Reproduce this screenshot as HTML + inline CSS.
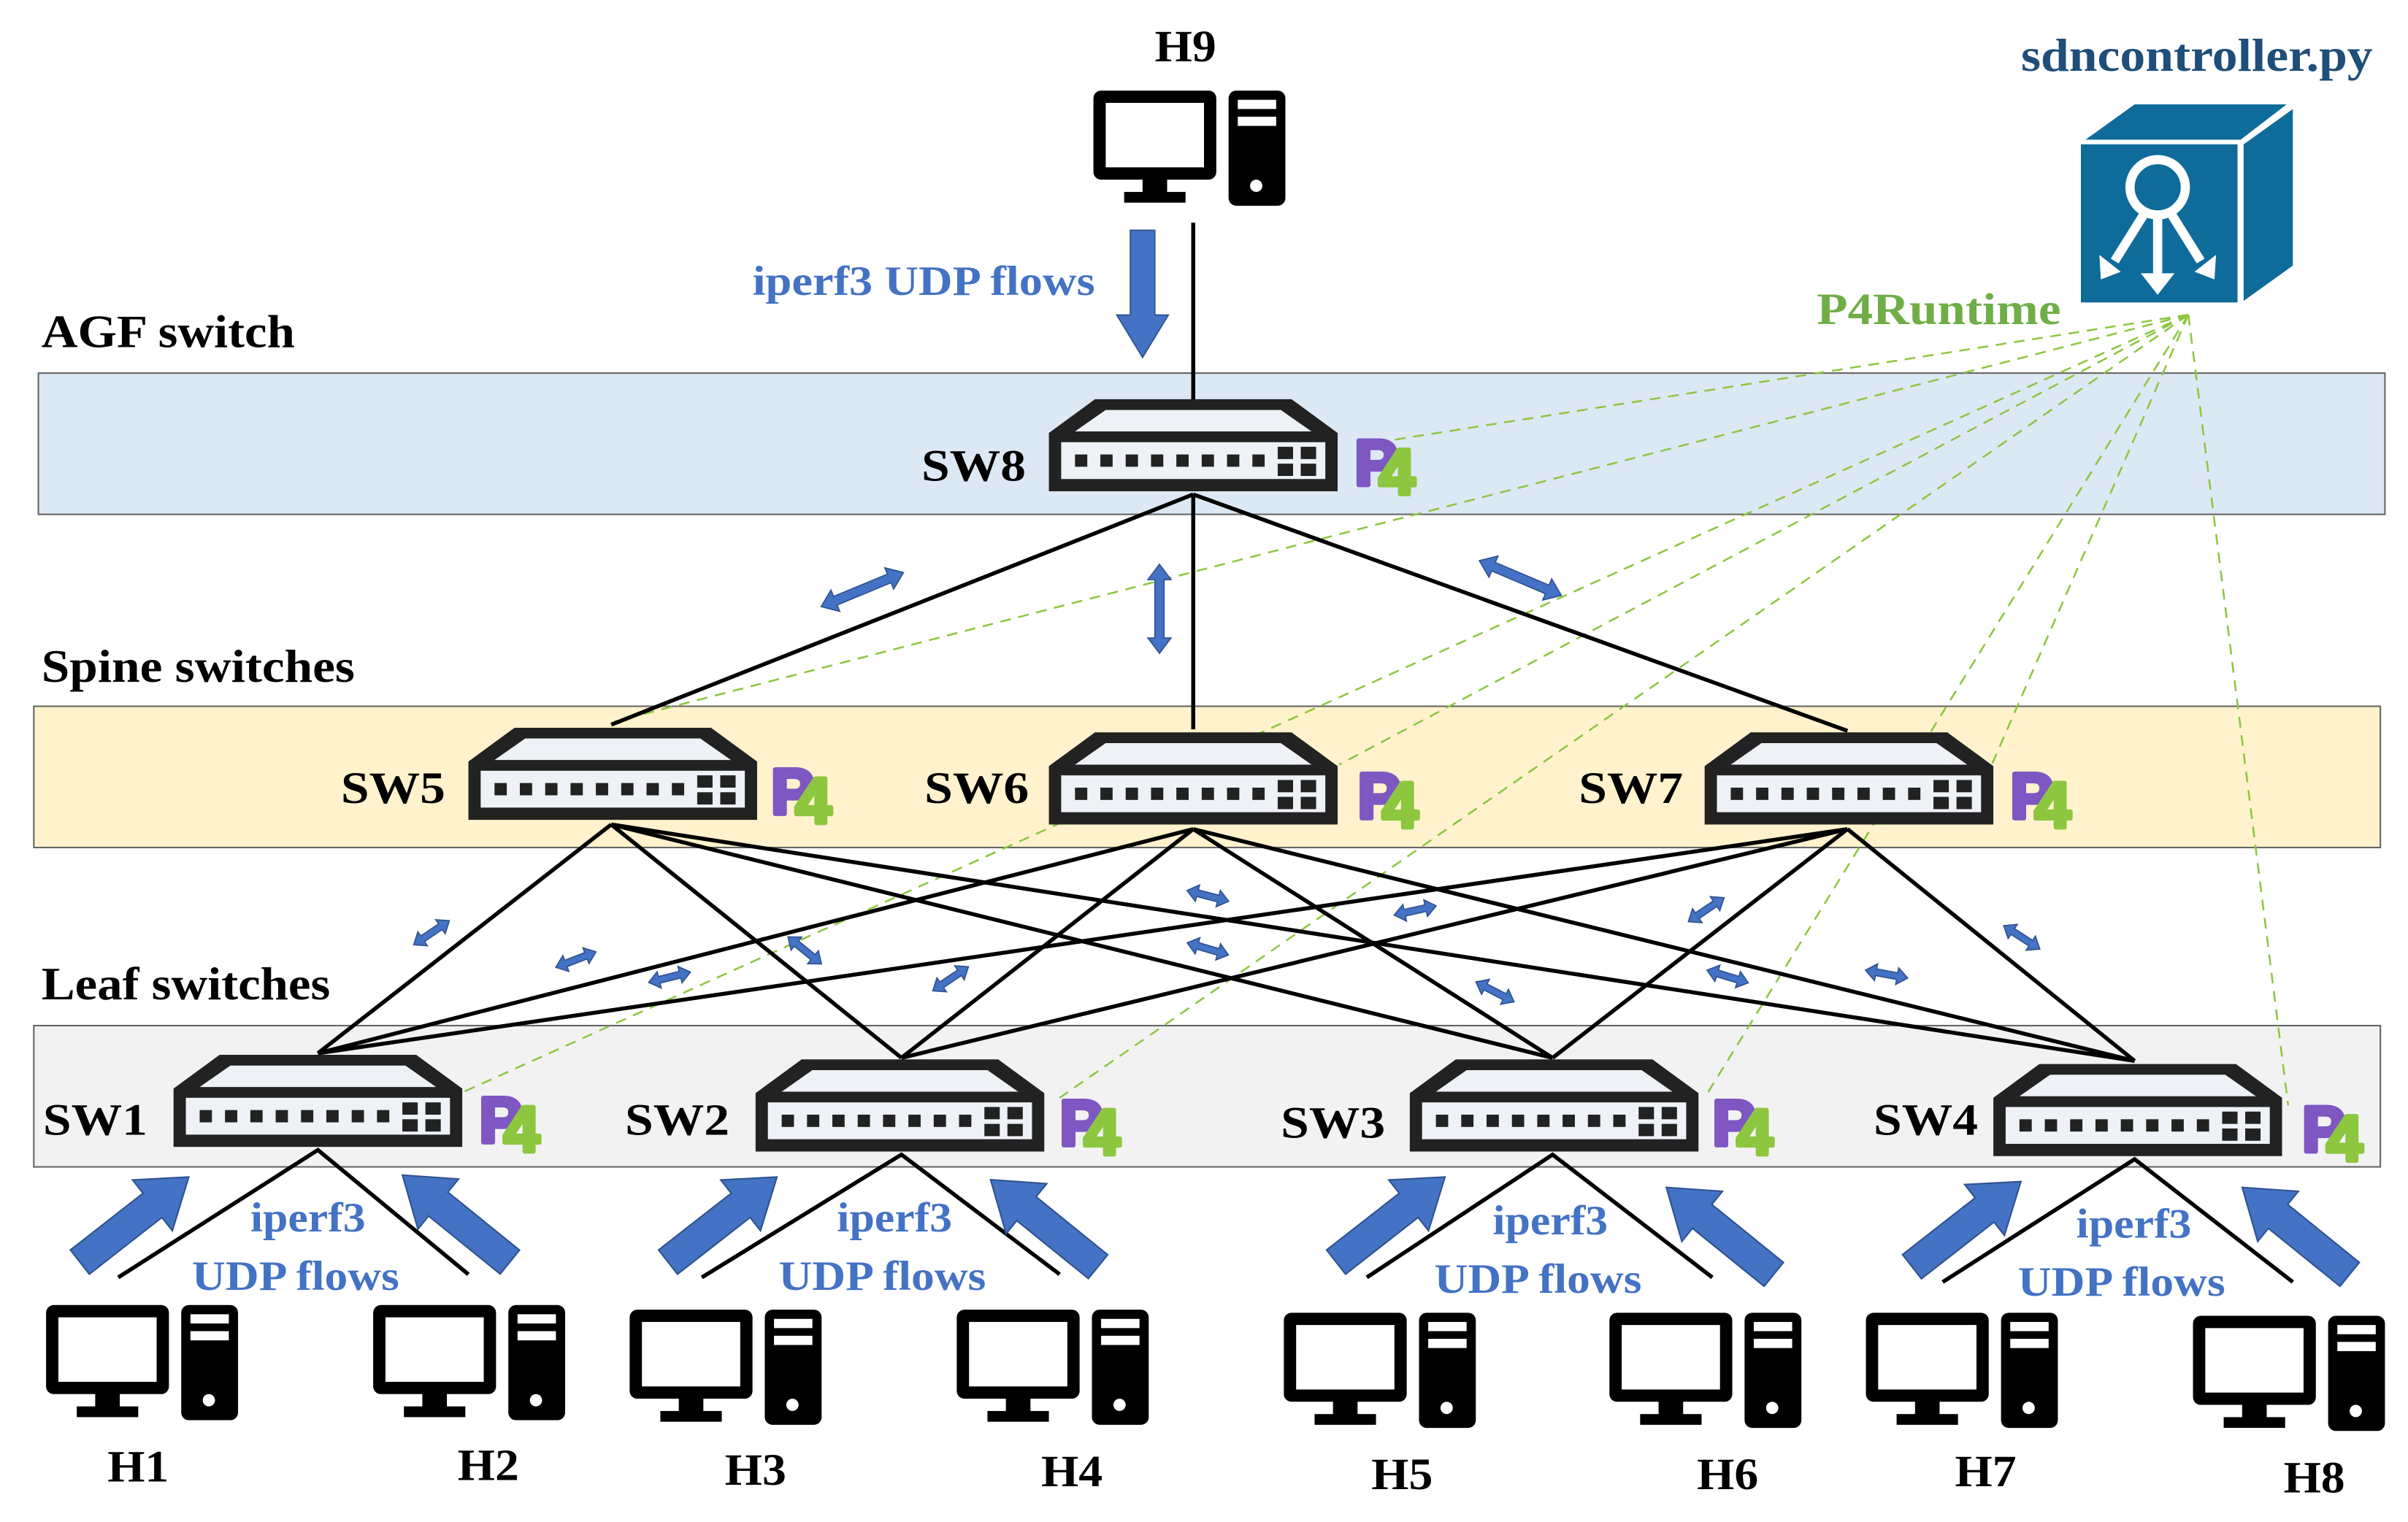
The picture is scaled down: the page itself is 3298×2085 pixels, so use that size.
<!DOCTYPE html>
<html><head><meta charset="utf-8"><style>html,body{margin:0;padding:0;background:#fff}svg{display:block}</style></head>
<body>
<svg width="3298" height="2085" viewBox="0 0 1568 991.3" xmlns="http://www.w3.org/2000/svg" font-family="'Liberation Serif',serif" font-weight="bold">
<defs>
<g id="sw">
<path d="M0,22 L30,0 L158,0 L188,22 L188,60 L0,60 Z" fill="#222"/>
<path d="M17,21 L37,7 L151,7 L171,21 Z" fill="#eef1f5"/>
<rect x="8" y="28" width="172" height="24" fill="#eef1f5"/>
<g fill="#222">
<rect x="17" y="36" width="8" height="8"/><rect x="33.5" y="36" width="8" height="8"/><rect x="50" y="36" width="8" height="8"/><rect x="66.5" y="36" width="8" height="8"/><rect x="83" y="36" width="8" height="8"/><rect x="99.5" y="36" width="8" height="8"/><rect x="116" y="36" width="8" height="8"/><rect x="132.5" y="36" width="8" height="8"/>
<rect x="149" y="31" width="10" height="8"/><rect x="164" y="31" width="10" height="8"/><rect x="149" y="42" width="10" height="8"/><rect x="164" y="42" width="10" height="8"/>
</g>
</g>
<g id="p4" font-family="'Liberation Sans',sans-serif" font-weight="bold" font-size="42">
<text x="0" y="38" fill="#7e57c2" stroke="#7e57c2" stroke-width="3" stroke-linejoin="round">P</text><text x="16" y="44" fill="#8dc63f" stroke="#8dc63f" stroke-width="3" stroke-linejoin="round">4</text>
</g>
<g id="host">
<rect x="0" y="0" width="80" height="58" rx="5" fill="#000"/>
<rect x="8" y="8" width="64" height="42" fill="#fff"/>
<rect x="32" y="57" width="16" height="10" fill="#000"/>
<rect x="20" y="66" width="40" height="7" fill="#000"/>
<rect x="88" y="0" width="37" height="75" rx="5" fill="#000"/>
<rect x="94" y="6" width="25" height="6" fill="#fff"/>
<rect x="94" y="17" width="25" height="6" fill="#fff"/>
<circle cx="106" cy="62" r="4" fill="#fff"/>
</g>
<path id="fat" d="M0,-10 L60,-10 L60,-21 L90,0 L60,21 L60,10 L0,10Z" fill="#4472c4" stroke="#2f528f" stroke-width="1"/>
<path id="dbl" d="M-14,0 L-7,-5.5 L-7,-2.2 L7,-2.2 L7,-5.5 L14,0 L7,5.5 L7,2.2 L-7,2.2 L-7,5.5Z" fill="#4472c4" stroke="#2f528f" stroke-width="0.8"/>
<path id="dblb" d="M-29,0 L-19,-7.5 L-19,-3 L19,-3 L19,-7.5 L29,0 L19,7.5 L19,3 L-19,3 L-19,7.5Z" fill="#4472c4" stroke="#2f528f" stroke-width="0.8"/>
</defs>

<rect x="25" y="243" width="1528" height="92" fill="#dde8f5" stroke="#666" stroke-width="1"/>
<rect x="22" y="460" width="1528" height="92" fill="#fff2cc" stroke="#666" stroke-width="1"/>
<rect x="22" y="668" width="1528" height="92" fill="#f2f2f2" stroke="#666" stroke-width="1"/>

<g font-size="30" fill="#000">
<text x="27" y="226" textLength="165" lengthAdjust="spacingAndGlyphs">AGF switch</text>
<text x="27" y="444" textLength="204" lengthAdjust="spacingAndGlyphs">Spine switches</text>
<text x="27" y="651" textLength="188" lengthAdjust="spacingAndGlyphs">Leaf switches</text>
</g>

<g stroke="#8dc63f" stroke-width="1.2" stroke-dasharray="7,5" fill="none">
<line x1="1425" y1="205" x2="885" y2="290"/>
<line x1="1425" y1="205" x2="400" y2="470"/>
<line x1="1425" y1="205" x2="872" y2="498"/>
<line x1="1425" y1="205" x2="1297" y2="498"/>
<line x1="1425" y1="205" x2="300" y2="712"/>
<line x1="1425" y1="205" x2="690" y2="715"/>
<line x1="1425" y1="205" x2="1110" y2="715"/>
<line x1="1425" y1="205" x2="1490" y2="720"/>
</g>

<g stroke="#000" stroke-width="2.6" fill="none">
<line x1="777" y1="145" x2="777" y2="262"/>
<line x1="777" y1="322" x2="398" y2="472"/>
<line x1="777" y1="322" x2="777" y2="475"/>
<line x1="777" y1="322" x2="1203" y2="476"/>
<g>
<line x1="398" y1="537" x2="207" y2="686"/><line x1="398" y1="537" x2="587" y2="689"/><line x1="398" y1="537" x2="1011" y2="689"/><line x1="398" y1="537" x2="1390" y2="691"/>
<line x1="777" y1="540" x2="207" y2="686"/><line x1="777" y1="540" x2="587" y2="689"/><line x1="777" y1="540" x2="1011" y2="689"/><line x1="777" y1="540" x2="1390" y2="691"/>
<line x1="1203" y1="540" x2="207" y2="686"/><line x1="1203" y1="540" x2="587" y2="689"/><line x1="1203" y1="540" x2="1011" y2="689"/><line x1="1203" y1="540" x2="1390" y2="691"/>
</g>
<polyline points="77,832 207,749 305,830"/>
<polyline points="457,832 587,752 690,830"/>
<polyline points="890,832 1011,752 1115,832"/>
<polyline points="1265,835 1390,755 1493,835"/>
</g>

<use href="#sw" x="683" y="260"/>
<use href="#sw" x="305" y="474"/>
<use href="#sw" x="683" y="477"/>
<use href="#sw" x="1110" y="477"/>
<use href="#sw" x="113" y="687"/>
<use href="#sw" x="492" y="690"/>
<use href="#sw" x="918" y="690"/>
<use href="#sw" x="1298" y="693"/>

<use href="#p4" x="882" y="278"/>
<use href="#p4" x="502" y="492"/>
<use href="#p4" x="884" y="495"/>
<use href="#p4" x="1309" y="495"/>
<use href="#p4" x="312" y="706"/>
<use href="#p4" x="690" y="708"/>
<use href="#p4" x="1115" y="708"/>
<use href="#p4" x="1499" y="712"/>

<g font-size="29" fill="#000">
<text x="600" y="313" textLength="68" lengthAdjust="spacingAndGlyphs">SW8</text>
<text x="222" y="523" textLength="68" lengthAdjust="spacingAndGlyphs">SW5</text>
<text x="602" y="523" textLength="68" lengthAdjust="spacingAndGlyphs">SW6</text>
<text x="1028" y="523" textLength="68" lengthAdjust="spacingAndGlyphs">SW7</text>
<text x="28" y="739" textLength="68" lengthAdjust="spacingAndGlyphs">SW1</text>
<text x="407" y="739" textLength="68" lengthAdjust="spacingAndGlyphs">SW2</text>
<text x="834" y="741" textLength="68" lengthAdjust="spacingAndGlyphs">SW3</text>
<text x="1220" y="739" textLength="68" lengthAdjust="spacingAndGlyphs">SW4</text>
</g>

<use href="#host" x="712" y="59"/>
<use href="#host" x="30" y="850"/>
<use href="#host" x="243" y="850"/>
<use href="#host" x="410" y="853"/>
<use href="#host" x="623" y="853"/>
<use href="#host" x="836" y="855"/>
<use href="#host" x="1048" y="855"/>
<use href="#host" x="1215" y="855"/>
<use href="#host" x="1428" y="857"/>
<g font-size="29" fill="#000">
<text x="752" y="40" textLength="40" lengthAdjust="spacingAndGlyphs">H9</text>
<text x="70" y="965" textLength="40" lengthAdjust="spacingAndGlyphs">H1</text>
<text x="298" y="964" textLength="40" lengthAdjust="spacingAndGlyphs">H2</text>
<text x="472" y="967" textLength="40" lengthAdjust="spacingAndGlyphs">H3</text>
<text x="678" y="968" textLength="40" lengthAdjust="spacingAndGlyphs">H4</text>
<text x="893" y="970" textLength="40" lengthAdjust="spacingAndGlyphs">H5</text>
<text x="1105" y="970" textLength="40" lengthAdjust="spacingAndGlyphs">H6</text>
<text x="1273" y="968" textLength="40" lengthAdjust="spacingAndGlyphs">H7</text>
<text x="1487" y="972" textLength="40" lengthAdjust="spacingAndGlyphs">H8</text>
</g>

<g transform="translate(744,150) rotate(90) scale(0.92,0.8)"><use href="#fat"/></g>
<g transform="translate(52,822) rotate(-38)"><use href="#fat"/></g>
<g transform="translate(332,822) rotate(-141)"><use href="#fat"/></g>
<g transform="translate(435,822) rotate(-38)"><use href="#fat"/></g>
<g transform="translate(715,825) rotate(-141)"><use href="#fat"/></g>
<g transform="translate(870,822) rotate(-38)"><use href="#fat"/></g>
<g transform="translate(1155,830) rotate(-141)"><use href="#fat"/></g>
<g transform="translate(1245,825) rotate(-38)"><use href="#fat"/></g>
<g transform="translate(1530,830) rotate(-141)"><use href="#fat"/></g>

<use href="#dblb" transform="translate(561.5,384) rotate(-22.5)"/>
<use href="#dblb" transform="translate(755,396.5) rotate(90)"/>
<use href="#dblb" transform="translate(990,376.5) rotate(23)"/>
<use href="#dbl" transform="translate(281,607.5) rotate(-34)"/>
<use href="#dbl" transform="translate(375,625) rotate(-21)"/>
<use href="#dbl" transform="translate(436,636.5) rotate(-14)"/>
<use href="#dbl" transform="translate(524,619) rotate(39)"/>
<use href="#dbl" transform="translate(619,637.5) rotate(-34)"/>
<use href="#dbl" transform="translate(786.5,583.5) rotate(14.5)"/>
<use href="#dbl" transform="translate(786.5,618) rotate(16.5)"/>
<use href="#dbl" transform="translate(921.5,593) rotate(-12.5)"/>
<use href="#dbl" transform="translate(973.5,646) rotate(27.5)"/>
<use href="#dbl" transform="translate(1111,592.5) rotate(-34)"/>
<use href="#dbl" transform="translate(1125,636) rotate(17)"/>
<use href="#dbl" transform="translate(1228.5,634.5) rotate(10.5)"/>
<use href="#dbl" transform="translate(1316.5,610.5) rotate(33)"/>

<g fill="#4472c4" font-size="27">
<text x="490" y="192" textLength="223" lengthAdjust="spacingAndGlyphs">iperf3  UDP flows</text>
<text x="163" y="802" textLength="75" lengthAdjust="spacingAndGlyphs">iperf3</text>
<text x="125" y="840" textLength="135" lengthAdjust="spacingAndGlyphs">UDP flows</text>
<text x="545" y="802" textLength="75" lengthAdjust="spacingAndGlyphs">iperf3</text>
<text x="507" y="840" textLength="135" lengthAdjust="spacingAndGlyphs">UDP flows</text>
<text x="972" y="804" textLength="75" lengthAdjust="spacingAndGlyphs">iperf3</text>
<text x="934" y="842" textLength="135" lengthAdjust="spacingAndGlyphs">UDP flows</text>
<text x="1352" y="806" textLength="75" lengthAdjust="spacingAndGlyphs">iperf3</text>
<text x="1314" y="844" textLength="135" lengthAdjust="spacingAndGlyphs">UDP flows</text>
</g>

<text x="1316" y="46" font-size="30" fill="#1f4e79" textLength="229" lengthAdjust="spacingAndGlyphs">sdncontroller.py</text>
<text x="1183" y="211" font-size="29" fill="#70ad47" textLength="159" lengthAdjust="spacingAndGlyphs">P4Runtime</text>
<polygon points="1358,91 1390,68 1489,68 1459,91" fill="#0e6b9a"/>
<polygon points="1461,94 1493,71 1493,173 1461,196" fill="#0e6b9a"/>
<rect x="1355" y="94" width="102" height="103" fill="#0e6b9a"/>
<g stroke="#fff" fill="none" stroke-width="6">
<circle cx="1405" cy="122" r="18"/>
<line x1="1405" y1="140" x2="1405" y2="180"/>
<line x1="1397" y1="138" x2="1377" y2="170"/>
<line x1="1413" y1="138" x2="1433" y2="170"/>
</g>
<g fill="#fff">
<polygon points="1394,178 1416,178 1405,192"/>
<polygon points="1367,166 1381,177 1368,182"/>
<polygon points="1443,166 1429,177 1442,182"/>
</g>
</svg>
</body></html>
